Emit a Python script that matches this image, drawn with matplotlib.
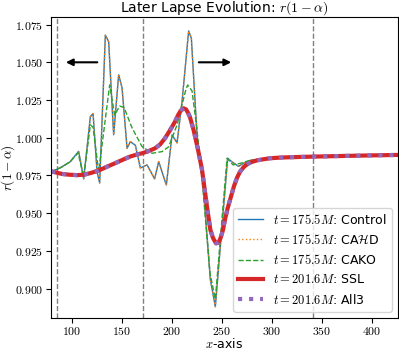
import numpy as np
import matplotlib
matplotlib.use("Agg")
import matplotlib.pyplot as plt
from matplotlib.ticker import FuncFormatter

plt.rcParams['mathtext.fontset'] = 'cm'
plt.rcParams['font.family'] = 'DejaVu Sans'

# Control / CAHD (same curve), t = 175.5M
x_ctrl = [79.3, 88, 98, 106.6, 111.6, 118.3, 121, 125, 127.6, 133.3, 136.6, 141.6,
          146.6, 150, 155, 158.3, 163.3, 168.3, 175, 182.6, 186.6, 194.3, 200, 205,
          210, 216.6, 219.3, 225, 231.3, 238.3, 243.3, 255.6, 260, 266.6, 271.3,
          278.3, 298.3, 342, 426]
y_ctrl = [0.9775, 0.980, 0.984, 0.991, 0.9727, 1.014, 1.016, 0.9775, 0.970, 1.068,
          1.0637, 1.002, 1.0417, 1.033, 0.993, 0.9974, 0.995, 0.980, 0.982, 0.9727,
          0.9842, 0.9687, 1.0019, 0.9966, 1.024, 1.0708, 1.066, 1.0018, 0.967, 0.906,
          0.888, 0.9864, 0.984, 0.981, 0.983, 0.985, 0.9866, 0.9875, 0.9886]

# CAKO, t = 175.5M
x_cako = [79.3, 88, 98, 106, 111.6, 118.3, 121, 126.6, 137.6, 142.6, 147.6, 152,
          160, 170, 180, 190, 196.6, 205, 213.3, 215.6, 220, 225, 231, 238, 243.3,
          255, 261, 268, 278, 298, 342, 426]
y_cako = [0.9775, 0.980, 0.984, 0.990, 0.974, 1.0085, 1.007, 0.9775, 1.035, 1.015,
          1.021, 1.020, 1.0065, 0.9941, 0.9897, 0.9908, 0.994, 1.0085, 1.0306, 1.035,
          1.031, 1.005, 0.965, 0.910, 0.893, 0.9864, 0.982, 0.983, 0.985, 0.9866,
          0.9875, 0.9886]

# SSL / All3 (same curve), t = 201.6M
x_ssl = [79.3, 85, 90, 97, 105, 112, 118, 123, 128, 135, 143, 150, 158, 164, 170,
         176, 183, 188, 193, 198, 203, 206, 208.5, 211.6, 214, 216, 218, 221.6, 226,
         230, 235, 238.3, 241, 244, 246.5, 248.5, 251, 253, 255.5, 258, 262, 265,
         268, 272, 276, 280, 285, 292, 298, 310, 325, 342, 370, 400, 426]
y_ssl = [0.9777, 0.9768, 0.9760, 0.9755, 0.9752, 0.9755, 0.9765, 0.9775, 0.9787,
         0.9808, 0.9831, 0.9852, 0.9875, 0.9887, 0.9897, 0.9910, 0.9930, 0.9955,
         0.9997, 1.0050, 1.0107, 1.0150, 1.0178, 1.0195, 1.0188, 1.0165, 1.0135,
         1.0050, 0.9920, 0.9787, 0.9540, 0.9390, 0.9335, 0.9300, 0.9305, 0.9335,
         0.9390, 0.9460, 0.9530, 0.9588, 0.9680, 0.9735, 0.9775, 0.9808, 0.9828,
         0.9840, 0.9850, 0.9858, 0.9864, 0.9869, 0.9872, 0.9875, 0.9879, 0.9883,
         0.9886]

vlines = [85.33, 170.67, 341.33]
labels = [r'$t=175.5M$: Control', r'$t=175.5M$: CA$\mathcal{H}$D',
          r'$t=175.5M$: CAKO', r'$t=201.6M$: SSL', r'$t=201.6M$: All3']

fig = plt.figure(figsize=(3.99, 3.52), dpi=100)
ax = fig.add_axes([0.128, 0.097, 0.8695, 0.855])

for xv in vlines:
    ax.axvline(xv, color='gray', ls='--', lw=1)

ax.plot(x_ctrl, y_ctrl, color='C0', lw=1, label=labels[0])
ax.plot(x_ctrl, y_ctrl, color='C1', lw=1, ls=':', label=labels[1])
ax.plot(x_cako, y_cako, color='C2', lw=1, ls='--', label=labels[2])
ax.plot(x_ssl, y_ssl, color='C3', lw=3, label=labels[3])
ax.plot(x_ssl, y_ssl, color='C4', lw=3, ls=':', label=labels[4])

ax.annotate('', xy=(91, 1.050), xytext=(128, 1.050),
            arrowprops=dict(arrowstyle='-|>', color='black', lw=1.5))
ax.annotate('', xy=(262, 1.050), xytext=(224, 1.050),
            arrowprops=dict(arrowstyle='-|>', color='black', lw=1.5))

ax.set_xlim(79, 426)
ax.set_ylim(0.8806, 1.0801)
ax.set_xticks([100, 150, 200, 250, 300, 350, 400])
ax.set_yticks([0.900, 0.925, 0.950, 0.975, 1.000, 1.025, 1.050, 1.075])
ax.xaxis.set_major_formatter(FuncFormatter(lambda v, p: f'${v:.0f}$'))
ax.yaxis.set_major_formatter(FuncFormatter(lambda v, p: f'${v:.3f}$'))
ax.tick_params(labelsize=8.5, pad=2)

ax.set_xlabel(r'$x$-axis', fontsize=9)
ax.set_ylabel(r'$r(1-\alpha)$', fontsize=9.5)
ax.xaxis.set_label_coords(0.5, -0.064)
ax.yaxis.set_label_coords(-0.097, 0.5)
ax.set_title(r'Later Lapse Evolution: $r(1-\alpha)$', fontsize=10, pad=3)
ax.legend(loc='lower right', fontsize=9)

fig.savefig('out.png', dpi=100)
